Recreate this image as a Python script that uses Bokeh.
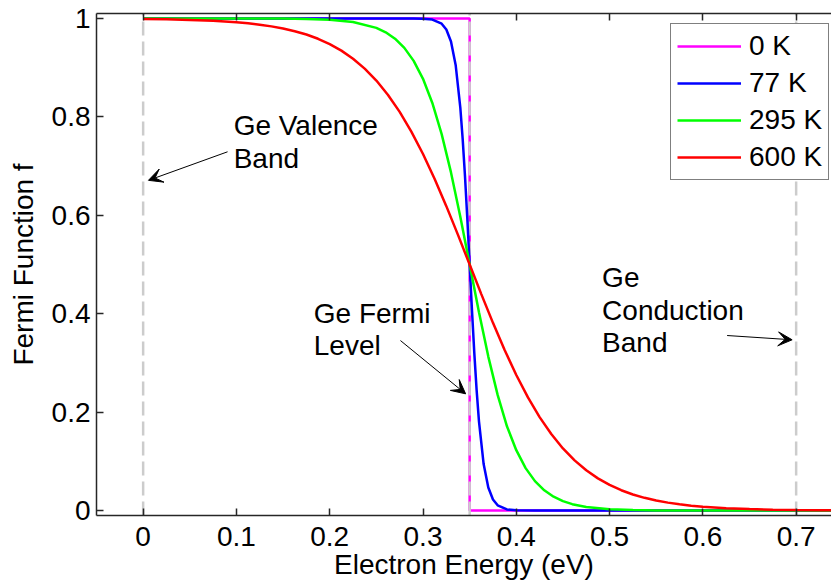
import numpy as np
from bokeh.plotting import figure
from bokeh.models import (Range1d, FixedTicker, LinearAxis, Label, Arrow, VeeHead,
                          Legend, LegendItem)
from bokeh.embed import file_html
from bokeh.resources import INLINE

# ---------------- data ----------------
x_ticks = [0, 0.1, 0.2, 0.3, 0.4, 0.5, 0.6, 0.7]
x_tick_labels = ["0", "0.1", "0.2", "0.3", "0.4", "0.5", "0.6", "0.7"]
y_ticks = [0, 0.2, 0.4, 0.6, 0.8, 1]
y_tick_labels = ["0", "0.2", "0.4", "0.6", "0.8", "1"]

series_names = ["0 K", "77 K", "295 K", "600 K"]

energy_0K = [0.0, 0.35, 0.35, 0.75]
f_0K = [1.0, 1.0, 0.0, 0.0]

energy_77K = [0.0, 0.20, 0.25, 0.28, 0.29, 0.30, 0.31, 0.32, 0.325, 0.33, 0.335,
              0.34, 0.3425, 0.345, 0.3475, 0.35, 0.3525, 0.355, 0.3575, 0.36,
              0.365, 0.37, 0.375, 0.38, 0.39, 0.40, 0.42, 0.45, 0.75]
f_77K = [1.0, 1.0, 1.0, 0.99997, 0.99988, 0.99947, 0.99760, 0.98925, 0.97744,
         0.95321, 0.90558, 0.81863, 0.75591, 0.67996, 0.59309, 0.5, 0.40691,
         0.32004, 0.24409, 0.18137, 0.09442, 0.04679, 0.02256, 0.01075, 0.00240,
         0.00053, 0.00003, 0.0, 0.0]

energy_295K = [0.0, 0.05, 0.10, 0.125, 0.15, 0.175, 0.20, 0.225, 0.25, 0.26, 0.27,
               0.28, 0.29, 0.30, 0.31, 0.32, 0.33, 0.34, 0.35, 0.36, 0.37, 0.38,
               0.39, 0.40, 0.41, 0.42, 0.43, 0.44, 0.45, 0.46, 0.475, 0.50, 0.525,
               0.55, 0.60, 0.65, 0.70, 0.75]
f_295K = [1.0, 0.99999, 0.99995, 0.99986, 0.99962, 0.99898, 0.99727, 0.99274,
          0.98081, 0.97183, 0.95879, 0.94013, 0.91374, 0.87730, 0.82829, 0.76499,
          0.68714, 0.59709, 0.5, 0.40291, 0.31286, 0.23501, 0.17127, 0.12270,
          0.08626, 0.05987, 0.04121, 0.02817, 0.01919, 0.01304, 0.00726, 0.00273,
          0.00102, 0.00038, 0.00005, 0.00001, 0.0, 0.0]

energy_600K = [0.0, 0.025, 0.05, 0.075, 0.10, 0.1125, 0.125, 0.1375, 0.15, 0.1625,
               0.175, 0.1875, 0.20, 0.2125, 0.225, 0.2375, 0.25, 0.2625, 0.275,
               0.2875, 0.30, 0.3125, 0.325, 0.3375, 0.35, 0.3625, 0.375, 0.3875,
               0.40, 0.4125, 0.425, 0.4375, 0.45, 0.4625, 0.475, 0.4875, 0.50,
               0.5125, 0.525, 0.5375, 0.55, 0.5625, 0.575, 0.5875, 0.60, 0.625,
               0.65, 0.675, 0.70, 0.725, 0.75]
f_600K = [0.99885, 0.99814, 0.99699, 0.99513, 0.99212, 0.98999, 0.98728, 0.98386,
          0.97954, 0.97408, 0.96723, 0.95863, 0.94791, 0.93461, 0.91818, 0.89807,
          0.87373, 0.84455, 0.81008, 0.77011, 0.72453, 0.67377, 0.61858, 0.56015,
          0.5, 0.43985, 0.38142, 0.32623, 0.27547, 0.22991, 0.18992, 0.15545,
          0.12627, 0.10193, 0.08182, 0.06539, 0.05209, 0.04137, 0.03277, 0.02591,
          0.02046, 0.01614, 0.01272, 0.01001, 0.00788, 0.00487, 0.00301, 0.00186,
          0.00115, 0.00071, 0.00044]

# band edges / Fermi level (eV)
band_energies = [0.0, 0.35, 0.7]

# ---------------- styling / layout ----------------
FONT = "Liberation Sans"
FS = "28px"
AX_COLOR = "#262626"
colors = ["#FF00FF", "#0000FF", "#00FF00", "#FF0000"]

Y0, Y1 = -0.01, 1.01
p = figure(width=831, height=588, output_backend="svg", toolbar_location=None,
           x_range=Range1d(-0.05, 0.7379), y_range=Range1d(Y0, Y1),
           min_border_left=96, min_border_right=0, min_border_top=13,
           min_border_bottom=73)
p.grid.visible = False
p.outline_line_color = None
p.background_fill_color = "white"
p.border_fill_color = "white"


def style_axis(ax, ticks, labels, show_labels=True):
    ax.ticker = FixedTicker(ticks=ticks)
    ax.major_label_overrides = {t: l for t, l in zip(ticks, labels)}
    ax.major_tick_in = 7
    ax.major_tick_out = 0
    ax.minor_tick_line_color = None
    ax.axis_line_color = AX_COLOR
    ax.axis_line_width = 1.5
    ax.major_tick_line_color = AX_COLOR
    ax.major_tick_line_width = 1.5
    ax.major_label_text_font = FONT
    ax.major_label_text_font_size = FS if show_labels else "0px"
    ax.major_label_text_color = "black" if show_labels else None


xa = p.xaxis[0]
style_axis(xa, x_ticks, x_tick_labels)
xa.major_label_standoff = 11
xa.axis_label = "Electron Energy (eV)"
xa.axis_label_text_font = FONT
xa.axis_label_text_font_size = FS
xa.axis_label_text_font_style = "normal"
xa.axis_label_text_color = "black"
xa.axis_label_standoff = 0

ya = p.yaxis[0]
style_axis(ya, y_ticks, y_tick_labels)
ya.major_label_standoff = 6
ya.axis_label = "Fermi Function f"
ya.axis_label_text_font = FONT
ya.axis_label_text_font_size = FS
ya.axis_label_text_font_style = "normal"
ya.axis_label_text_color = "black"
ya.axis_label_standoff = 10

top = LinearAxis()
style_axis(top, x_ticks, x_tick_labels, show_labels=False)
top.major_label_standoff = 0
p.add_layout(top, "above")

# ---------------- curves ----------------
r0 = p.line(energy_0K, f_0K, line_color=colors[0], line_width=2.5)
p.segment(x0=band_energies, y0=[Y0] * len(band_energies), x1=band_energies,
          y1=[Y1] * len(band_energies), line_color="#CCCCCC", line_width=2.5,
          line_dash="14 6")
r1 = p.line(energy_77K, f_77K, line_color=colors[1], line_width=2.5)
r2 = p.line(energy_295K, f_295K, line_color=colors[2], line_width=2.5)
r3 = p.line(energy_600K, f_600K, line_color=colors[3], line_width=2.5)

legend = Legend(items=[LegendItem(label=n, renderers=[r]) for n, r in
                       zip(series_names, [r0, r1, r2, r3])],
                location=(574, 335), padding=6, spacing=5, margin=0,
                glyph_width=64, glyph_height=28, label_height=28, label_standoff=8,
                border_line_color="black", border_line_width=1.5,
                background_fill_color="white", background_fill_alpha=1.0,
                label_text_font=FONT, label_text_font_size=FS,
                label_text_color="black")
p.add_layout(legend)

# ---------------- annotations ----------------
texts = [("Ge Valence", 0.097, 0.7825), ("Band", 0.097, 0.715),
         ("Ge Fermi", 0.1829, 0.400), ("Level", 0.1829, 0.335),
         ("Ge", 0.492, 0.474), ("Conduction", 0.492, 0.4065), ("Band", 0.492, 0.342)]
for t, x, y in texts:
    p.add_layout(Label(x=x, y=y, text=t, text_font=FONT, text_font_size=FS,
                       text_align="left", text_baseline="alphabetic",
                       text_color="black"))

arrows = [((0.0905, 0.729), (0.0057, 0.671)),
          ((0.2758, 0.3455), (0.3457, 0.2372)),
          ((0.626, 0.3557), (0.6957, 0.347))]
for (xs, ys), (xe, ye) in arrows:
    p.add_layout(Arrow(end=VeeHead(size=14, fill_color="black", line_color="black",
                                   line_width=1),
                       x_start=xs, y_start=ys, x_end=xe, y_end=ye,
                       line_color="black", line_width=1))

open("out.html", "w").write(file_html(p, INLINE))
